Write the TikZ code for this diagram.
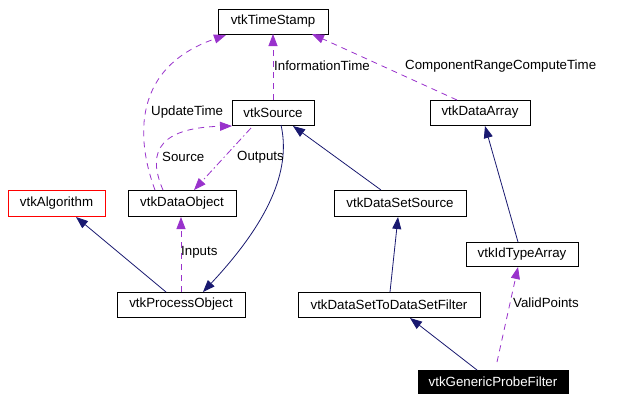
\documentclass[tikz,border=0pt]{standalone}
\usepackage{fontspec}
\setmainfont{Liberation Sans}
\usetikzlibrary{arrows.meta}
\definecolor{edgepurple}{RGB}{153,50,204}
\definecolor{edgenavy}{RGB}{25,25,112}
\tikzset{
  box/.style={draw=black, line width=0.8bp, inner sep=0pt, font=\fontsize{13.3bp}{15bp}\selectfont},
  redbox/.style={box, draw=red},
  focusbox/.style={box, fill=black, text=white},
  lbl/.style={anchor=west, inner sep=0pt, font=\fontsize{13.3bp}{15bp}\selectfont},
  tip/.style={-{Triangle[length=12bp,width=9bp]}},
  inherit/.style={tip, draw=edgenavy, line width=0.8bp},
  usage/.style={tip, draw=edgepurple, line width=0.8bp, dash pattern=on 6bp off 5bp},
  usagedot/.style={tip, draw=edgepurple, line width=0.8bp, dash pattern=on 7bp off 3bp on 1.5bp off 3bp},
}
\begin{document}
\begin{tikzpicture}[x=1bp,y=-1bp]
\useasboundingbox[fill=white] (0,0) rectangle (626,402);
% nodes
\node[box, minimum width=110bp, minimum height=25bp] (ts) at (273,21.5) {vtkTimeStamp};
\node[box, minimum width=82bp, minimum height=25bp] (src) at (273,112.5) {vtkSource};
\node[box, minimum width=100bp, minimum height=25bp] (da) at (480,112.5) {vtkDataArray};
\node[redbox, minimum width=97bp, minimum height=26bp] (alg) at (56.5,203) {vtkAlgorithm};
\node[box, minimum width=108bp, minimum height=26bp] (dobj) at (182,203) {vtkDataObject};
\node[box, minimum width=132bp, minimum height=26bp] (dss) at (400,203) {vtkDataSetSource};
\node[box, minimum width=112bp, minimum height=24bp] (ida) at (522,254) {vtkIdTypeArray};
\node[box, minimum width=128bp, minimum height=25bp] (po) at (181,304.5) {vtkProcessObject};
\node[box, minimum width=182bp, minimum height=25bp] (dsf) at (389,304.5) {vtkDataSetToDataSetFilter};
\node[focusbox, minimum width=150bp, minimum height=23bp] (gpf) at (493,381.5) {vtkGenericProbeFilter};
% anchor coordinates
\coordinate (srcT) at (273,100);
\coordinate (tsB) at (273,34);
\coordinate (daT) at (457,100);
\coordinate (tsBR) at (312,34);
\coordinate (dobjT1) at (155,190);
\coordinate (tsBL) at (226,35);
\coordinate (dobjT2) at (163,190);
\coordinate (srcBL) at (232,126);
\coordinate (srcB2) at (251,128);
\coordinate (dobjT3) at (194,190);
\coordinate (srcB3) at (281,125);
\coordinate (poT1) at (203,292);
\coordinate (poT2) at (166,292);
\coordinate (algB) at (76,217);
\coordinate (poT3) at (181,292);
\coordinate (dobjB) at (181,217);
\coordinate (dssT) at (381,190);
\coordinate (srcBR) at (293,126);
\coordinate (dsfT) at (390,292);
\coordinate (dssB) at (398,217);
\coordinate (gpfT1) at (477,370);
\coordinate (dsfB) at (410,318);
\coordinate (idaT) at (518,242);
\coordinate (daB) at (485,126);
\coordinate (gpfT2) at (497,362);
\coordinate (idaB) at (518,267);
% edges
\draw[usage] (srcT) -- (tsB);
\draw[usage] (daT) -- (tsBR);
\draw[usage] (dobjT1) .. controls (140,150) and (125,70) .. (tsBL);
\draw[usage] (dobjT2) .. controls (150,160) and (150,128) .. (srcBL);
\draw[usagedot] (srcB2) -- (dobjT3);
\draw[inherit] (srcB3) .. controls (290,165) and (275,215) .. (poT1);
\draw[inherit] (poT2) -- (algB);
\draw[usage] (poT3) -- (dobjB);
\draw[inherit] (dssT) -- (srcBR);
\draw[inherit] (dsfT) -- (dssB);
\draw[inherit] (gpfT1) -- (dsfB);
\draw[inherit] (idaT) -- (daB);
\draw[usage] (gpfT2) -- (idaB);
% labels
\node[lbl] (l1) at (274,66) {InformationTime};
\node[lbl] (l2) at (405,66) {ComponentRangeComputeTime};
\node[lbl] (l3) at (151,112) {UpdateTime};
\node[lbl] (l4) at (162,157) {Source};
\node[lbl] (l5) at (237,157) {Outputs};
\node[lbl] (l6) at (181,252) {Inputs};
\node[lbl] (l7) at (513,303) {ValidPoints};
\end{tikzpicture}
\end{document}
